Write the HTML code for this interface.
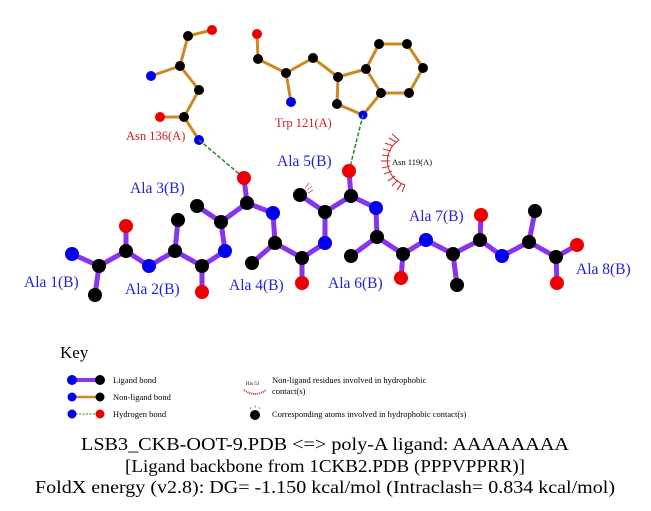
<!DOCTYPE html>
<html><head><meta charset="utf-8"><style>
html,body{margin:0;padding:0;background:#fff;}
svg{display:block;}
.lb{stroke:#8833ee;stroke-width:5;stroke-linecap:round;}
.nb{stroke:#cc8822;stroke-width:3;}
.k{fill:#000}.b{fill:#0000ee}.r{fill:#ee0000}
.al{font-family:"Liberation Serif",serif;font-size:15.5px;fill:#2222dd;}
.rl{font-family:"Liberation Serif",serif;font-size:12.5px;fill:#cc2222;}
.kt{font-family:"Liberation Serif",serif;font-size:8.5px;fill:#000;}
.bt{font-family:"Liberation Serif",serif;font-size:18px;fill:#000;}
</style></head><body>
<svg width="651" height="511" viewBox="0 0 651 511" xmlns="http://www.w3.org/2000/svg">
<g class="nb">
<line x1="212" y1="30" x2="188" y2="36"/><line x1="188" y1="36" x2="180" y2="66"/>
<line x1="151" y1="76" x2="180" y2="66"/><line x1="180" y1="66" x2="199" y2="90"/>
<line x1="199" y1="90" x2="184" y2="117"/><line x1="160" y1="117" x2="184" y2="117"/>
<line x1="184" y1="117" x2="199" y2="140"/>
<line x1="257" y1="34" x2="258" y2="59"/><line x1="258" y1="59" x2="286" y2="73"/>
<line x1="286" y1="73" x2="291" y2="102"/><line x1="286" y1="73" x2="313" y2="58"/>
<line x1="313" y1="58" x2="338" y2="77"/><line x1="338" y1="77" x2="337" y2="104"/>
<line x1="337" y1="104" x2="363" y2="115"/><line x1="363" y1="115" x2="381" y2="93"/>
<line x1="381" y1="93" x2="366" y2="69"/><line x1="366" y1="69" x2="338" y2="77"/>
<line x1="366" y1="69" x2="379" y2="44"/><line x1="379" y1="44" x2="407" y2="44"/>
<line x1="407" y1="44" x2="423" y2="68"/><line x1="423" y1="68" x2="409" y2="93"/>
<line x1="409" y1="93" x2="381" y2="93"/>
</g>
<g class="k"><circle cx="188" cy="36" r="5"/><circle cx="180" cy="66" r="5"/><circle cx="199" cy="90" r="5"/><circle cx="184" cy="117" r="5"/>
<circle cx="258" cy="59" r="5"/><circle cx="286" cy="73" r="5"/><circle cx="313" cy="58" r="5"/><circle cx="338" cy="77" r="5"/><circle cx="337" cy="104" r="5"/><circle cx="381" cy="93" r="5"/><circle cx="366" cy="69" r="5"/><circle cx="379" cy="44" r="5"/><circle cx="407" cy="44" r="5"/><circle cx="423" cy="68" r="5"/><circle cx="409" cy="93" r="5"/></g>
<g class="r"><circle cx="212" cy="30" r="5"/><circle cx="160" cy="117" r="5"/><circle cx="257" cy="34" r="5"/></g>
<g class="b"><circle cx="151" cy="76" r="5"/><circle cx="199" cy="140" r="5"/><circle cx="291" cy="102" r="5"/><circle cx="363" cy="115" r="4.5"/></g>
<line x1="199" y1="140" x2="244" y2="178" stroke="#228822" stroke-width="1.5" stroke-dasharray="4,2"/>
<line x1="363" y1="115" x2="349" y2="171" stroke="#228822" stroke-width="1.5" stroke-dasharray="4,2"/>
<g class="lb">
<polyline fill="none" points="72,254 99,266 126,251 149,266 175,251 202,266 225,251 221,222 247,203 273,213 275,243 302,258 325,243 325,212 351,196 376,208 377,237 403,254 426,240 453,254 480,240 502,256 529,242 556,257 577,245"/>
<line x1="99" y1="266" x2="95" y2="295"/><line x1="126" y1="251" x2="126" y2="226"/>
<line x1="175" y1="251" x2="178" y2="220"/><line x1="202" y1="266" x2="202" y2="292"/>
<line x1="221" y1="222" x2="197" y2="206"/><line x1="247" y1="203" x2="244" y2="178"/>
<line x1="275" y1="243" x2="252" y2="263"/><line x1="302" y1="258" x2="302" y2="283"/>
<line x1="325" y1="212" x2="300" y2="195"/><line x1="351" y1="196" x2="349" y2="171"/>
<line x1="377" y1="237" x2="351" y2="256"/><line x1="403" y1="254" x2="401" y2="278"/>
<line x1="453" y1="254" x2="457" y2="285"/><line x1="480" y1="240" x2="481" y2="215"/>
<line x1="529" y1="242" x2="535" y2="211"/><line x1="556" y1="257" x2="557" y2="283"/>
</g>
<g class="k">
<circle cx="99" cy="266" r="7"/><circle cx="95" cy="295" r="7"/><circle cx="126" cy="251" r="7"/><circle cx="175" cy="251" r="7"/><circle cx="178" cy="220" r="7"/><circle cx="202" cy="266" r="7"/><circle cx="221" cy="222" r="7"/><circle cx="197" cy="206" r="7"/><circle cx="247" cy="203" r="7"/><circle cx="275" cy="243" r="7"/><circle cx="252" cy="263" r="7"/><circle cx="302" cy="258" r="7"/><circle cx="325" cy="212" r="7"/><circle cx="300" cy="195" r="7"/><circle cx="351" cy="196" r="7"/><circle cx="377" cy="237" r="7"/><circle cx="351" cy="256" r="7"/><circle cx="403" cy="254" r="7"/><circle cx="453" cy="254" r="7"/><circle cx="457" cy="285" r="7"/><circle cx="480" cy="240" r="7"/><circle cx="529" cy="242" r="7"/><circle cx="535" cy="211" r="7"/><circle cx="556" cy="257" r="7"/>
</g>
<g class="b">
<circle cx="72" cy="254" r="7"/><circle cx="149" cy="266" r="7"/><circle cx="225" cy="251" r="7"/><circle cx="273" cy="213" r="7"/><circle cx="325" cy="243" r="7"/><circle cx="376" cy="208" r="7"/><circle cx="426" cy="240" r="7"/><circle cx="502" cy="256" r="7"/>
</g>
<g class="r">
<circle cx="126" cy="226" r="7"/><circle cx="202" cy="292" r="7"/><circle cx="244" cy="178" r="7"/><circle cx="302" cy="283" r="7"/><circle cx="349" cy="171" r="7"/><circle cx="401" cy="278" r="7"/><circle cx="481" cy="215" r="7"/><circle cx="577" cy="245" r="7"/><circle cx="557" cy="283" r="7"/>
</g>
<g stroke="#cc4444" stroke-width="0.8"><line x1="305" y1="188" x2="309" y2="183"/><line x1="307" y1="190" x2="312" y2="186"/><line x1="308" y1="193" x2="313" y2="190"/></g>
<g stroke="#cc3333" stroke-width="1.1" fill="none">
<path d="M399,140 A25,25 0 0 0 405,185"/>
<line x1="399" y1="140" x2="392" y2="134"/><line x1="396" y1="142" x2="389" y2="138"/>
<line x1="393" y1="146" x2="385" y2="143"/><line x1="391" y1="151" x2="383" y2="149"/>
<line x1="390" y1="156" x2="382" y2="155"/><line x1="390" y1="161" x2="381" y2="161"/>
<line x1="390" y1="166" x2="382" y2="168"/><line x1="392" y1="171" x2="384" y2="174"/>
<line x1="395" y1="176" x2="388" y2="181"/><line x1="398" y1="180" x2="392" y2="186"/>
<line x1="402" y1="183" x2="397" y2="190"/><line x1="405" y1="185" x2="402" y2="192"/>
</g>
<text x="392" y="165" class="kt">Asn 119(A)</text>
<text x="126" y="140" class="rl">Asn 136(A)</text>
<text x="275" y="127" class="rl">Trp 121(A)</text>
<text x="277" y="166" class="al">Ala 5(B)</text>
<text x="130" y="193" class="al">Ala 3(B)</text>
<text x="24" y="287" class="al">Ala 1(B)</text>
<text x="125" y="294" class="al">Ala 2(B)</text>
<text x="229" y="290" class="al">Ala 4(B)</text>
<text x="328" y="288" class="al">Ala 6(B)</text>
<text x="409" y="221" class="al">Ala 7(B)</text>
<text x="576" y="274" class="al">Ala 8(B)</text>
<text x="60" y="358" style="font-family:'Liberation Serif',serif;font-size:17px">Key</text>
<line x1="72" y1="380" x2="100" y2="380" class="lb" style="stroke-width:4"/>
<circle cx="72" cy="380" r="5" class="b"/><circle cx="100" cy="380" r="5" class="k"/>
<line x1="72" y1="397" x2="100" y2="397" class="nb" style="stroke-width:2.5"/>
<circle cx="72" cy="397" r="4.5" class="b"/><circle cx="100" cy="397" r="4.5" class="k"/>
<line x1="72" y1="414" x2="100" y2="414" stroke="#228822" stroke-width="1" stroke-dasharray="2,1.5"/>
<circle cx="72" cy="414" r="4.5" class="b"/><circle cx="100" cy="414" r="4.5" class="r"/>
<text x="113" y="383" class="kt">Ligand bond</text>
<text x="113" y="400" class="kt">Non-ligand bond</text>
<text x="113" y="417" class="kt">Hydrogen bond</text>
<text x="246" y="385" style="font-family:'Liberation Serif',serif;font-size:5px">His 53</text>
<path d="M244,390 Q255,398 266,390" stroke="#cc3333" stroke-width="2" fill="none" stroke-dasharray="1,1"/>
<text x="272" y="383" class="kt">Non-ligand residues involved in hydrophobic</text>
<text x="272" y="394" class="kt">contact(s)</text>
<circle cx="255" cy="415" r="5" class="k"/>
<path d="M250,409 L251,407 M255,408 L255,405 M260,409 L259,407" stroke="#cc4444" stroke-width="0.7"/>
<text x="272" y="417" class="kt">Corresponding atoms involved in hydrophobic contact(s)</text>
<text x="325" y="450" class="bt" text-anchor="middle" textLength="488" lengthAdjust="spacingAndGlyphs">LSB3_CKB-OOT-9.PDB &lt;=&gt; poly-A ligand: AAAAAAAA</text>
<text x="325" y="472" class="bt" text-anchor="middle" textLength="400" lengthAdjust="spacingAndGlyphs">[Ligand backbone from 1CKB2.PDB (PPPVPPRR)]</text>
<text x="325" y="493" class="bt" text-anchor="middle" textLength="580" lengthAdjust="spacingAndGlyphs">FoldX energy (v2.8): DG= -1.150 kcal/mol (Intraclash= 0.834 kcal/mol)</text>
</svg>
</body></html>
